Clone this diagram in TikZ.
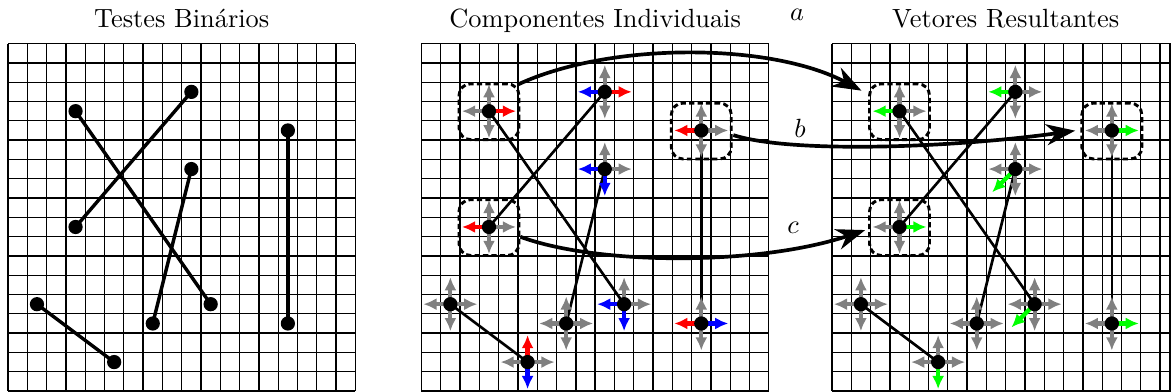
\documentclass[tikz,border=0pt]{standalone}
\usetikzlibrary{arrows.meta,calc}
\definecolor{vgreen}{RGB}{0,255,0}
\begin{document}
\begin{tikzpicture}[x=0.2575cm,y=0.2575cm,
  gridline/.style={line width=0.5pt,draw=black},
  link/.style={line width=1pt},
  thicklink/.style={line width=1.3pt},
  comp/.style={line width=1.6pt,-{Latex[length=5pt,width=4.6pt]}},
  dot/.style={circle,fill=black,inner sep=0pt,minimum size=0.19cm},
  dbox/.style={draw,line width=1.1pt,dash pattern=on 2pt off 1.2pt,rounded corners=4.4pt,minimum width=0.8cm,minimum height=0.745cm,inner sep=0pt},
  curve/.style={line width=1.4pt,-{Stealth[length=11pt,width=8pt,inset=3.5pt]}},
  title/.style={anchor=base},
  lab/.style={}
]
\useasboundingbox (-0.415,-0.05) rectangle (60.255,20.26);

% grids and point coordinates
\foreach \g/\ox in {1/0,2/21.42,3/42.69}{
  \begin{scope}[shift={(\ox,0)}]
    \draw[gridline,step=1] (0,0) grid (18,18);
    \foreach \n/\x/\y in {a1/3.5/14.5, a2/10.5/4.5, b1/9.5/15.5, b2/3.5/8.5, c1/9.5/11.5, c2/7.5/3.5, d1/14.5/13.5, d2/14.5/3.5, e1/1.5/4.5, e2/5.5/1.5}
      \coordinate (g\g\n) at (\x,\y);
  \end{scope}
}
\draw[gridline] (60.2,0) -- (60.2,18);

% titles
\node[title] (t1) at (9,18.82) {Testes Binários};
\node[title] (t2) at (30.42,18.82) {Componentes Individuais};
\node[title] (t3) at (51.69,18.82) {Vetores Resultantes};

% links
\foreach \p in {a,b,c,d,e}{
  \draw[thicklink] (g1\p1) -- (g1\p2);
  \draw[link] (g2\p1) -- (g2\p2);
  \draw[link] (g3\p1) -- (g3\p2);
}

% component arrows, grid 2
\foreach \p/\cu/\cd/\cl/\cr in {a1/gray/gray/gray/red, b1/gray/gray/blue/red, c1/gray/blue/blue/gray, d1/gray/gray/red/gray, b2/gray/gray/red/gray, e1/gray/gray/gray/gray, c2/gray/gray/gray/gray, a2/gray/blue/blue/gray, d2/gray/gray/red/blue, e2/red/blue/gray/gray}{
  \draw[comp,color=\cu] (g2\p) -- ++(0,1.4);
  \draw[comp,color=\cd] (g2\p) -- ++(0,-1.4);
  \draw[comp,color=\cl] (g2\p) -- ++(-1.4,0);
  \draw[comp,color=\cr] (g2\p) -- ++(1.4,0);
}

% resulting arrows, grid 3
\foreach \p/\cu/\cd/\cl/\cr in {a1/gray/gray/vgreen/gray, b1/gray/gray/vgreen/gray, c1/gray/gray/gray/gray, d1/gray/gray/gray/vgreen, b2/gray/gray/gray/vgreen, e1/gray/gray/gray/gray, c2/gray/gray/gray/gray, a2/gray/gray/gray/gray, d2/gray/gray/gray/vgreen, e2/gray/vgreen/gray/gray}{
  \draw[comp,color=\cu] (g3\p) -- ++(0,1.4);
  \draw[comp,color=\cd] (g3\p) -- ++(0,-1.4);
  \draw[comp,color=\cl] (g3\p) -- ++(-1.4,0);
  \draw[comp,color=\cr] (g3\p) -- ++(1.4,0);
}
\foreach \p in {c1,a2}
  \draw[comp,color=vgreen] (g3\p) -- ++(-1.2,-1.2);

% dots
\foreach \g in {1,2,3}
  \foreach \n in {a1,a2,b1,b2,c1,c2,d1,d2,e1,e2}
    \node[dot] (d\g\n) at (g\g\n) {};

% dashed boxes
\foreach \g in {2,3}{
  \node[dbox] (bx\g a) at ($(g\g a1)+(0,-0.03)$) {};
  \node[dbox] (bx\g d) at ($(g\g d1)+(0,-0.03)$) {};
  \node[dbox] (bx\g b) at ($(g\g b2)+(0,-0.03)$) {};
}

% curved connectors
\draw[curve] ([shift={(-0.15,-0.12)}]bx2a.north east) .. controls +(4.8,2.24) and +(-4.68,2.49) .. ([shift={(-0.34,-0.43)}]bx3a.north west);
\draw[curve] ([shift={(0.03,-0.21)}]bx2d.east) .. controls +(3,-0.96) and +(-6.37,-0.89) .. ([shift={(-0.27,0.02)}]bx3d.west);
\draw[curve] ([shift={(0,-0.48)}]bx2b.east) .. controls +(4.04,-1.49) and +(-5.49,-1.84) .. ([shift={(-0.15,-0.13)}]bx3b.west);

% labels
\node[lab] (la) at (40.88,19.48) {$a$};
\node[lab] (lb) at (41.04,13.63) {$b$};
\node[lab] (lc) at (40.67,8.45) {$c$};
\end{tikzpicture}
\end{document}
